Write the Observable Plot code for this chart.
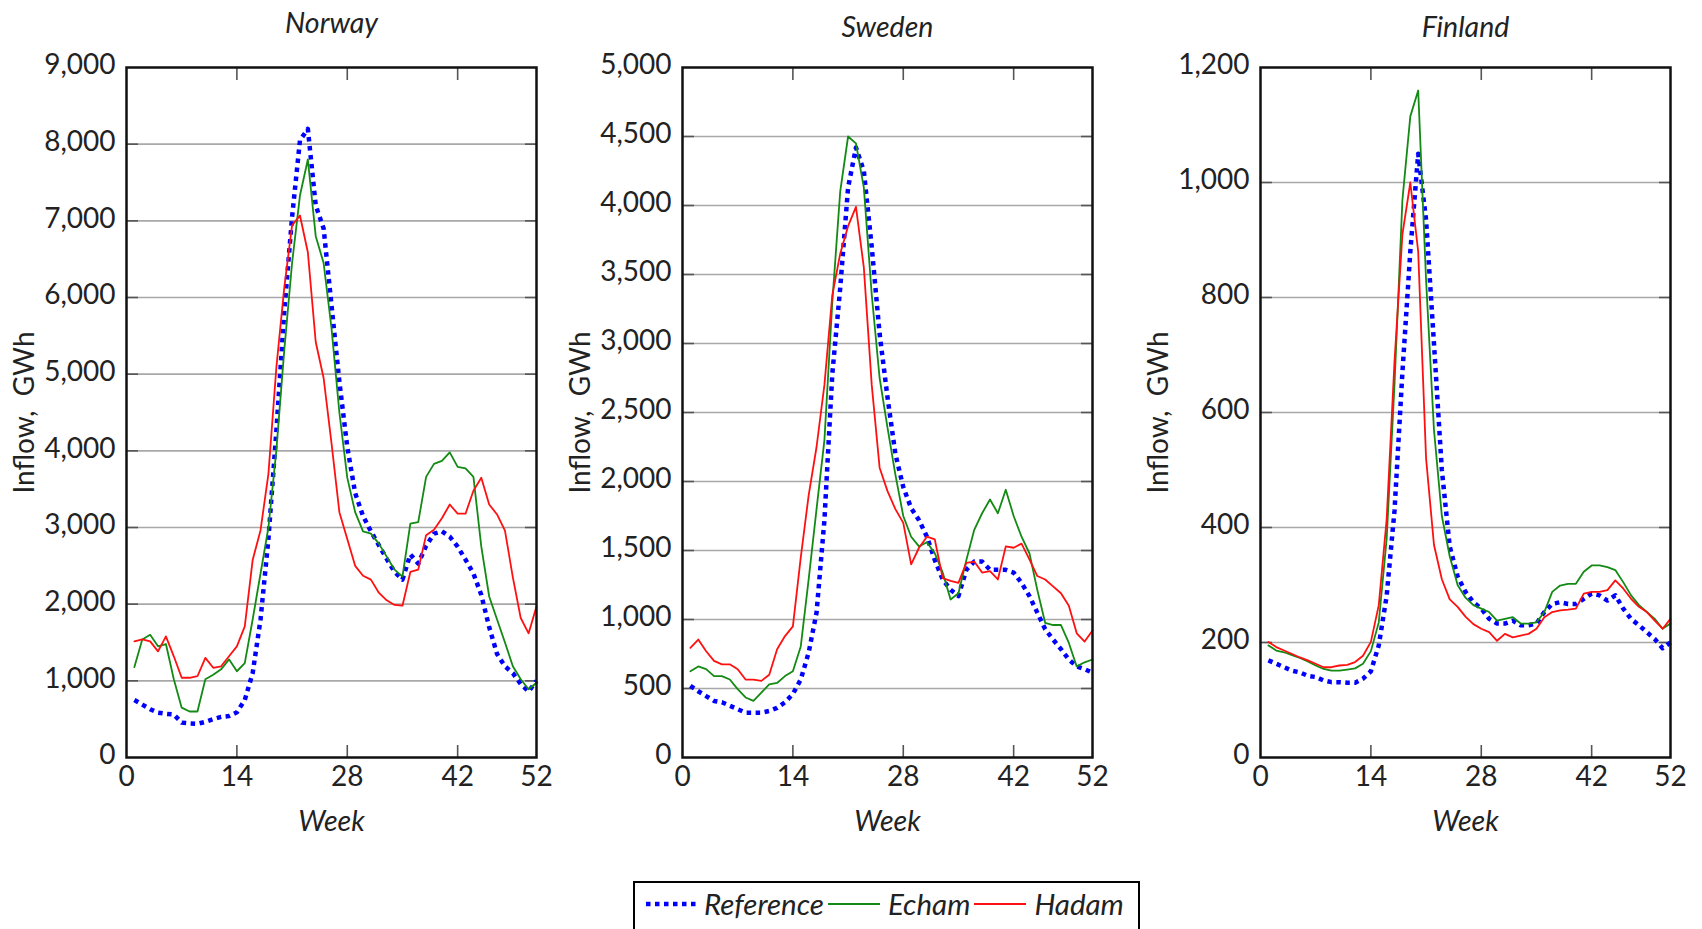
<!DOCTYPE html>
<html>
<head>
<meta charset="utf-8">
<script src="https://cdn.jsdelivr.net/npm/d3@7"></script>
<script src="https://cdn.jsdelivr.net/npm/@observablehq/plot@0.6"></script>
<style>
  html, body { margin: 0; padding: 0; background: #fff; }
  #wrap { position: relative; width: 1702px; height: 929px; overflow: hidden; background: #fff; }
  .panel { position: absolute; top: 0; }
  #legend { position: absolute; left: 633px; top: 881px; width: 507px; height: 70px; border: 2px solid #000;
            box-sizing: border-box; display: flex; align-items: flex-start; padding-top: 3px; padding-left: 11px;
            font-family: Lato, "Open Sans", sans-serif; font-style: italic; font-size: 29.5px; line-height: 36px; color: #222; }
  #legend .item { display: flex; align-items: center; margin-right: 4px; }
  #legend svg { margin-right: 8px; }
</style>
</head>
<body>
<div id="wrap"></div>
<script>
// ---- data (weekly inflow, GWh) ----
const weeks = [1,2,3,4,5,6,7,8,9,10,11,12,13,14,15,16,17,18,19,20,21,22,23,24,25,26,
               27,28,29,30,31,32,33,34,35,36,37,38,39,40,41,42,43,44,45,46,47,48,49,50,51,52];
const seriesNames = ["Reference", "Echam", "Hadam"];
const xTicks = [0, 14, 28, 42, 52];

const norwayReference = [750,690,630,585,570,560,455,445,440,465,500,530,540,590,750,1100,1800,2850,4250,5800,7050,8050,8200,7200,6900,5900,
                         4900,4050,3450,3150,2950,2770,2590,2420,2320,2650,2530,2760,2920,2950,2880,2750,2580,2400,2120,1700,1350,1190,1100,960,860,1000];
const norwayEcham = [1180,1540,1600,1450,1480,1020,650,600,600,1020,1080,1150,1280,1125,1230,1800,2400,3000,4000,5300,6450,7330,7800,6800,6450,5600,
                     4500,3650,3200,2950,2920,2790,2620,2450,2360,3050,3070,3660,3830,3870,3980,3790,3770,3660,2750,2100,1800,1500,1190,1020,890,975];
const norwayHadam = [1515,1540,1515,1385,1580,1320,1040,1040,1060,1300,1170,1190,1320,1450,1710,2575,2965,3700,5080,6120,6940,7070,6590,5420,4950,4100,
                     3200,2850,2500,2370,2320,2150,2050,1990,1980,2420,2450,2900,2970,3120,3300,3180,3180,3480,3650,3300,3170,2960,2350,1820,1620,1970];

const swedenReference = [520,480,445,410,400,375,350,325,325,325,337,360,400,460,565,760,1050,1720,2780,3400,4130,4420,4250,3700,3070,2610,
                         2200,1960,1807,1720,1600,1430,1290,1215,1170,1360,1420,1420,1360,1360,1360,1340,1265,1170,1050,930,855,785,710,660,640,615];
const swedenEcham = [625,660,640,590,590,565,495,435,410,470,530,540,590,625,805,1290,1800,2300,3300,4100,4500,4450,4130,3355,2750,2390,
                     2050,1750,1600,1530,1560,1480,1340,1145,1190,1430,1650,1770,1870,1770,1940,1750,1600,1480,1215,975,960,960,830,660,690,710];
const swedenHadam = [795,855,770,700,675,675,640,565,565,555,600,785,880,950,1450,1900,2250,2700,3350,3650,3850,3990,3550,2700,2100,1930,
                     1800,1700,1400,1520,1600,1580,1300,1280,1265,1410,1420,1340,1350,1290,1530,1520,1550,1435,1315,1290,1240,1190,1100,900,840,920];

const finlandReference = [169,163,157,151,148,142,140,134,131,131,130,130,137,150,195,281,430,670,880,1050,935,720,500,367,315,288,
                          270,259,241,233,233,238,230,230,233,253,267,270,267,267,276,285,282,273,282,259,241,230,218,206,190,200];
const finlandEcham = [195,186,183,178,173,167,160,154,151,151,153,155,163,185,235,380,650,970,1115,1160,830,570,420,350,300,278,
                      265,259,253,238,241,244,233,233,235,253,288,299,302,302,323,334,334,331,326,305,282,265,253,241,224,233];
const finlandHadam = [201,192,186,180,174,169,163,157,157,160,161,166,177,201,265,414,690,910,1000,880,520,370,310,275,262,245,
                      232,224,218,203,215,209,212,215,224,244,253,256,257,259,285,288,288,291,308,294,276,262,253,238,224,241];

const norwayYTicks = [0,1000,2000,3000,4000,5000,6000,7000,8000,9000];
const swedenYTicks = [0,500,1000,1500,2000,2500,3000,3500,4000,4500,5000];
const finlandYTicks = [0,200,400,600,800,1000,1200];

// ---- styles ----
const seriesStyle = {
  Reference: {stroke: "#0000ff", strokeWidth: 4.5, strokeDasharray: "4.5,4.5", strokeLinecap: "butt"},
  Echam: {stroke: "#138a13", strokeWidth: 1.8},
  Hadam: {stroke: "#ff1010", strokeWidth: 1.8}
};
const FONT = "Lato, 'Open Sans', sans-serif";
const FS = 28;

function panel({title, ref, ech, had, yTicks, left, width, marginLeft, titleDy}) {
  const frameW = 410;
  const series = {Reference: ref, Echam: ech, Hadam: had};
  const lineMarks = seriesNames.map(name => {
    const rows = weeks.map((w, i) => ({week: w, value: series[name][i]}));
    return Plot.line(rows, {x: "week", y: "value", ...seriesStyle[name]});
  });
  const inner = yTicks.slice(1, -1);
  const innerX = xTicks.slice(1, -1);
  const fmt = d3.format(",");
  const svg = Plot.plot({
    width, height: 860,
    marginTop: 67, marginBottom: 103, marginLeft, marginRight: width - marginLeft - frameW,
    style: {fontFamily: FONT, fontSize: FS + "px", color: "#222", background: "transparent", overflow: "visible"},
    x: {domain: [0, 52]},
    y: {domain: [0, yTicks[yTicks.length - 1]]},
    marks: [
      Plot.gridY(inner, {stroke: "#a8a8a8", strokeOpacity: 1, strokeWidth: 1.6}),
      Plot.axisY(inner, {anchor: "left", tickSize: -12, fill: "none", stroke: "#555", strokeWidth: 1.6, label: null}),
      Plot.axisY(inner, {anchor: "right", tickSize: -12, fill: "none", stroke: "#555", strokeWidth: 1.6, label: null}),
      Plot.axisX(innerX, {anchor: "bottom", tickSize: -12, fill: "none", stroke: "#555", strokeWidth: 1.6, label: null}),
      Plot.axisX(innerX, {anchor: "top", tickSize: -12, fill: "none", stroke: "#555", strokeWidth: 1.6, label: null}),
      Plot.axisY(yTicks, {anchor: "left", tickSize: 0, tickPadding: 11, tickFormat: fmt, label: null, fontSize: FS, fill: "#222", dy: -2}),
      Plot.axisX(xTicks, {anchor: "bottom", tickSize: 0, tickPadding: 9, label: null, fontSize: FS, fill: "#222"}),
      ...lineMarks,
      Plot.frame({stroke: "#111", strokeWidth: 2.5}),
      Plot.text([title], {frameAnchor: "top", dy: titleDy, fontStyle: "italic", fontSize: 28.5, lineAnchor: "middle", fill: "#222"}),
      Plot.text(["Week"], {frameAnchor: "bottom", dy: 64, fontStyle: "italic", fontSize: 28.5, lineAnchor: "middle", fill: "#222"}),
      Plot.text(["Inflow,  GWh"], {frameAnchor: "left", textAnchor: "middle", rotate: -90, dx: -101, fontSize: 28, lineAnchor: "middle", fill: "#222"})
    ]
  });
  svg.classList.add("panel");
  svg.style.left = left + "px";
  return svg;
}

const wrap = document.getElementById("wrap");
wrap.appendChild(panel({title: "Norway", ref: norwayReference, ech: norwayEcham, had: norwayHadam,
  yTicks: norwayYTicks, left: 0, width: 560, marginLeft: 126, titleDy: -44}));
wrap.appendChild(panel({title: "Sweden", ref: swedenReference, ech: swedenEcham, had: swedenHadam,
  yTicks: swedenYTicks, left: 560, width: 560, marginLeft: 122, titleDy: -40}));
wrap.appendChild(panel({title: "Finland", ref: finlandReference, ech: finlandEcham, had: finlandHadam,
  yTicks: finlandYTicks, left: 1120, width: 582, marginLeft: 140, titleDy: -40}));

// ---- legend ----
const legend = document.createElement("div");
legend.id = "legend";
const swatchW = {Reference: 50, Echam: 52, Hadam: 52};
for (const name of seriesNames) {
  const st = seriesStyle[name];
  const item = document.createElement("div");
  item.className = "item";
  const ns = "http://www.w3.org/2000/svg";
  const sw = document.createElementNS(ns, "svg");
  sw.setAttribute("width", swatchW[name]); sw.setAttribute("height", 12);
  const ln = document.createElementNS(ns, "line");
  ln.setAttribute("x1", 0); ln.setAttribute("x2", swatchW[name]); ln.setAttribute("y1", 6); ln.setAttribute("y2", 6);
  ln.setAttribute("stroke", st.stroke); ln.setAttribute("stroke-width", st.strokeWidth);
  if (st.strokeDasharray) ln.setAttribute("stroke-dasharray", st.strokeDasharray);
  sw.appendChild(ln);
  const tx = document.createElement("span");
  tx.textContent = name;
  item.appendChild(sw); item.appendChild(tx);
  legend.appendChild(item);
}
wrap.appendChild(legend);
</script>
</body>
</html>
